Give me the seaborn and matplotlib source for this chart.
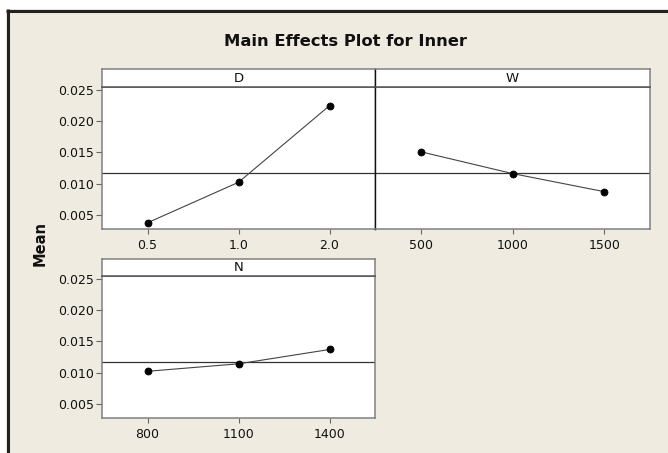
import matplotlib
matplotlib.use("Agg")
import matplotlib.pyplot as plt
from matplotlib.patches import Rectangle
from matplotlib.lines import Line2D
import seaborn as sns
import pandas as pd

# ---- data ----
d_levels = ["0.5", "1.0", "2.0"]
d_means = [0.0037, 0.0102, 0.0225]
w_levels = ["500", "1000", "1500"]
w_means = [0.0151, 0.0116, 0.0087]
n_levels = ["800", "1100", "1400"]
n_means = [0.0102, 0.0114, 0.0137]
grand_mean = 0.0117
y_ticks = [0.005, 0.010, 0.015, 0.020, 0.025]
y_ticklabels = ["0.005", "0.010", "0.015", "0.020", "0.025"]

sns.set_style("white")
plt.rcParams["font.family"] = ["DejaVu Sans Condensed", "DejaVu Sans"]

W, H = 668, 453
fig = plt.figure(figsize=(W / 100, H / 100), dpi=100)
fig.patch.set_facecolor("white")


def fx(px):
    return px / W


def fy(py):
    return 1 - py / H


# background panel with dark border (top / left)
fig.patches.append(Rectangle((fx(6), 0), 1 - fx(6), fy(9), transform=fig.transFigure,
                             facecolor="#EFEBE0", edgecolor="none", zorder=-5))
fig.lines.append(Line2D([fx(6), 1], [fy(10.5), fy(10.5)], transform=fig.transFigure,
                        color="#222222", lw=2.2, zorder=-4, solid_capstyle="butt"))
fig.lines.append(Line2D([fx(7.5), fx(7.5)], [0, fy(9)], transform=fig.transFigure,
                        color="#222222", lw=2.2, zorder=-4, solid_capstyle="butt"))

fig.text(fx(345), fy(42), "Main Effects Plot for Inner", ha="center", va="center",
         fontsize=11.8, fontweight="bold", color="#111111")
fig.text(fx(40), fy(243), "Mean", ha="center", va="center", rotation=90,
         fontsize=10.5, fontweight="bold", color="#111111")

panels = [
    ("D", d_levels, d_means, 102, 375, 69, 87, 229, True),
    ("W", w_levels, w_means, 375, 650, 69, 87, 229, False),
    ("N", n_levels, n_means, 102, 375, 259, 276, 418, True),
]

spine_col = "#808080"
divider_col = "#111111"
for name, levels, means, x0, x1, s0, s1, yb, show_y in panels:
    ax = fig.add_axes([fx(x0), fy(yb), fx(x1) - fx(x0), (yb - s1) / H])
    ax.set_zorder(2)
    df = pd.DataFrame({"level": levels, "mean": means})
    sns.pointplot(data=df, x="level", y="mean", order=levels, ax=ax,
                  color="#000000", markers="o", errorbar=None,
                  markersize=5, linewidth=0.8)
    for ln in ax.lines:
        ln.set_color("#444444")
        ln.set_markerfacecolor("#000000")
        ln.set_markeredgecolor("#000000")
    ax.axhline(grand_mean, color="#333333", lw=0.9, zorder=1)
    ax.set_xlim(-0.5, len(levels) - 0.5)
    ax.set_ylim(0.0027, 0.0255)
    ax.set_facecolor("white")
    ax.set_xlabel("")
    ax.set_ylabel("")
    ax.set_yticks(y_ticks)
    if show_y:
        ax.set_yticklabels(y_ticklabels)
        ax.tick_params(axis="y", left=True, length=4.5, width=0.8, color="#666666",
                       labelsize=9, labelcolor="#111111", pad=1.5)
    else:
        ax.tick_params(axis="y", left=False, labelleft=False)
    ax.tick_params(axis="x", bottom=True, length=3.5, width=0.8, color="#666666",
                   labelsize=9, labelcolor="#111111", pad=4)
    for sp in ax.spines.values():
        sp.set_visible(True)
        sp.set_color(spine_col)
        sp.set_linewidth(1.1)
    ax.spines["top"].set_color("#555555")

    sax = fig.add_axes([fx(x0), fy(s1), fx(x1) - fx(x0), (s1 - s0) / H])
    sax.set_zorder(2)
    sax.set_facecolor("white")
    sax.set_xticks([])
    sax.set_yticks([])
    for sp in sax.spines.values():
        sp.set_visible(True)
        sp.set_color(spine_col)
        sp.set_linewidth(1.1)
    sax.spines["bottom"].set_color("#555555")
    if name == "D":
        for a in (ax, sax):
            a.spines["right"].set_color(divider_col)
            a.spines["right"].set_linewidth(1.0)
    if name == "W":
        for a in (ax, sax):
            a.spines["left"].set_color(divider_col)
            a.spines["left"].set_linewidth(1.0)
    sax.text(0.5, 0.5, name, ha="center", va="center", fontsize=9.5,
             color="#111111", transform=sax.transAxes)

fig.savefig("out.png", dpi=100, facecolor=fig.get_facecolor())
